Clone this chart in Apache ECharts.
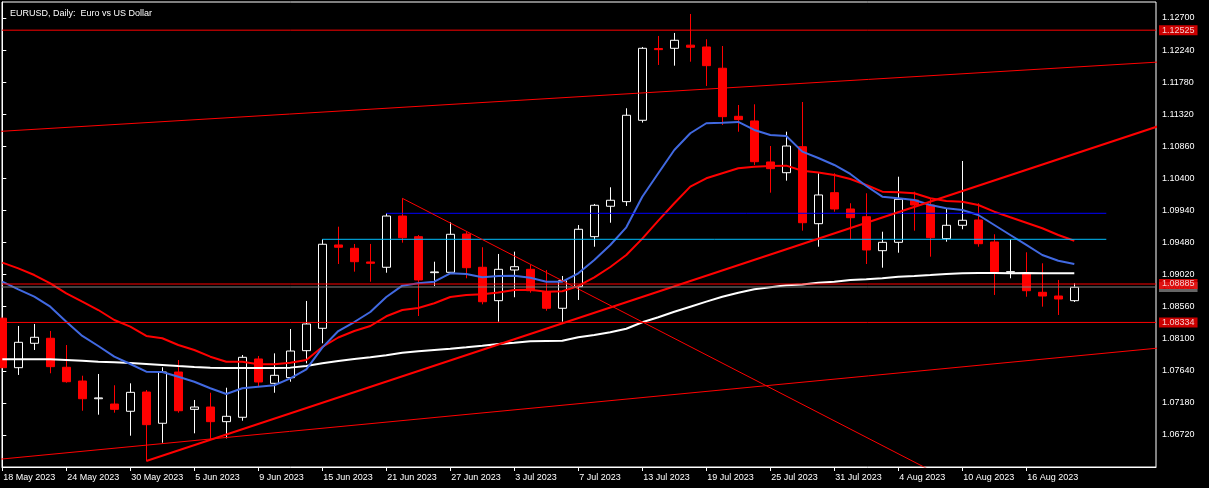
<!DOCTYPE html>
<html>
<head>
<meta charset="utf-8">
<script src="https://cdn.jsdelivr.net/npm/echarts@6/dist/echarts.min.js"></script>
<style>
html,body{margin:0;padding:0;background:#000;}
#chart{width:1209px;height:488px;}
</style>
</head>
<body>
<div id="chart"></div>
<script>
// ---- data ----
const dates = [
 '18 May 2023','19 May 2023','22 May 2023','23 May 2023','24 May 2023','25 May 2023','26 May 2023','29 May 2023','30 May 2023','31 May 2023',
 '1 Jun 2023','2 Jun 2023','5 Jun 2023','6 Jun 2023','7 Jun 2023','8 Jun 2023','9 Jun 2023','12 Jun 2023','13 Jun 2023','14 Jun 2023',
 '15 Jun 2023','16 Jun 2023','19 Jun 2023','20 Jun 2023','21 Jun 2023','22 Jun 2023','23 Jun 2023','26 Jun 2023','27 Jun 2023','28 Jun 2023',
 '29 Jun 2023','30 Jun 2023','3 Jul 2023','4 Jul 2023','5 Jul 2023','6 Jul 2023','7 Jul 2023','10 Jul 2023','11 Jul 2023','12 Jul 2023',
 '13 Jul 2023','14 Jul 2023','17 Jul 2023','18 Jul 2023','19 Jul 2023','20 Jul 2023','21 Jul 2023','24 Jul 2023','25 Jul 2023','26 Jul 2023',
 '27 Jul 2023','28 Jul 2023','31 Jul 2023','1 Aug 2023','2 Aug 2023','3 Aug 2023','4 Aug 2023','7 Aug 2023','8 Aug 2023','9 Aug 2023',
 '10 Aug 2023','11 Aug 2023','14 Aug 2023','15 Aug 2023','16 Aug 2023','17 Aug 2023','18 Aug 2023','21 Aug 2023'
];
const opens = [
 1.08395,1.07685,1.08035,1.08107,1.07691,1.07494,1.07240,1.07164,1.07060,1.07336,
 1.06888,1.07623,1.07088,1.07121,1.06911,1.06974,1.07810,1.07461,1.07542,1.07929,
 1.08250,1.09445,1.09397,1.09201,1.09125,1.09860,1.09564,1.09048,1.09053,1.09602,
 1.09125,1.08646,1.09086,1.09096,1.08775,1.08537,1.08847,1.09564,1.10000,1.10066,
 1.11233,1.12262,1.12265,1.12310,1.12284,1.11979,1.11290,1.11223,1.10635,1.10481,
 1.10854,1.09750,1.10195,1.09961,1.09850,1.09363,1.09483,1.10090,1.10018,1.09535,
 1.09727,1.09803,1.09488,1.09055,1.09039,1.08766,1.08713,1.08646
];
const highs = [
 1.08400,1.08283,1.08312,1.08212,1.08010,1.07570,1.07595,1.07433,1.07461,1.07365,
 1.07691,1.07795,1.07222,1.07326,1.07398,1.07867,1.07853,1.07891,1.08240,1.08642,
 1.09526,1.09707,1.09459,1.09459,1.09899,1.10114,1.09588,1.09205,1.09770,1.09635,
 1.09412,1.09316,1.09349,1.09158,1.09086,1.09000,1.09731,1.10033,1.10272,1.11405,
 1.12284,1.12442,1.12485,1.12757,1.12395,1.12298,1.11452,1.11462,1.10864,1.11069,
 1.11495,1.10473,1.10473,1.10043,1.10186,1.09635,1.10424,1.10209,1.10114,1.09971,
 1.10649,1.10043,1.09598,1.09526,1.09340,1.09182,1.08943,1.08895
];
const lows = [
 1.07680,1.07581,1.07939,1.07605,1.07470,1.07068,1.07011,1.07040,1.06710,1.06347,
 1.06609,1.07040,1.06744,1.06658,1.06672,1.06925,1.07412,1.07326,1.07484,1.07748,
 1.08035,1.09172,1.09062,1.08918,1.09047,1.09478,1.08426,1.08857,1.09039,1.08967,
 1.08594,1.08345,1.08695,1.08761,1.08502,1.08345,1.08656,1.09420,1.09764,1.10004,
 1.11200,1.12026,1.12016,1.12073,1.11725,1.11166,1.11069,1.10592,1.10195,1.10367,
 1.09650,1.09420,1.09922,1.09526,1.09172,1.09119,1.09334,1.09650,1.09277,1.09492,
 1.09670,1.09420,1.08728,1.08967,1.08703,1.08560,1.08441,1.08627
];
const closes = [
 1.07685,1.08049,1.08121,1.07700,1.07484,1.07240,1.07252,1.07088,1.07332,1.06868,
 1.07623,1.07068,1.07121,1.06911,1.06988,1.07834,1.07480,1.07576,1.07924,1.08312,
 1.09455,1.09412,1.09205,1.09182,1.09860,1.09549,1.08943,1.09058,1.09598,1.09119,
 1.08631,1.09096,1.09133,1.08789,1.08537,1.08933,1.09670,1.10014,1.10086,1.11305,
 1.12265,1.12246,1.12380,1.12280,1.12016,1.11285,1.11242,1.10639,1.10539,1.10864,
 1.09764,1.10162,1.09961,1.09836,1.09373,1.09483,1.10100,1.10018,1.09549,1.09727,
 1.09799,1.09463,1.09062,1.09062,1.08789,1.08713,1.08670,1.08838
];
const maFast = [
 1.08918,1.08809,1.08703,1.08560,1.08345,1.08140,1.07996,1.07843,1.07738,1.07628,
 1.07623,1.07556,1.07484,1.07390,1.07308,1.07390,1.07413,1.07433,1.07533,1.07662,
 1.07972,1.08211,1.08340,1.08484,1.08699,1.08861,1.08895,1.08918,1.09039,1.09029,
 1.08981,1.09000,1.09004,1.08976,1.08918,1.08918,1.09039,1.09230,1.09445,1.09698,
 1.10137,1.10473,1.10807,1.11047,1.11190,1.11199,1.11209,1.11094,1.11022,1.11008,
 1.10783,1.10692,1.10592,1.10463,1.10291,1.10137,1.10114,1.10090,1.10018,1.09971,
 1.09947,1.09875,1.09731,1.09588,1.09445,1.09301,1.09219,1.09172
];
const maMid = [
 1.09191,1.09110,1.09014,1.08895,1.08752,1.08631,1.08512,1.08369,1.08273,1.08140,
 1.08107,1.08011,1.07939,1.07843,1.07771,1.07771,1.07734,1.07734,1.07757,1.07795,
 1.07982,1.08118,1.08211,1.08283,1.08422,1.08512,1.08541,1.08609,1.08699,1.08728,
 1.08739,1.08763,1.08799,1.08804,1.08775,1.08782,1.08857,1.08981,1.09129,1.09301,
 1.09536,1.09793,1.10043,1.10281,1.10401,1.10473,1.10545,1.10568,1.10578,1.10582,
 1.10510,1.10484,1.10449,1.10391,1.10305,1.10209,1.10200,1.10186,1.10114,1.10076,
 1.10066,1.10018,1.09922,1.09842,1.09764,1.09684,1.09588,1.09506
];
const maSlow = [
 1.07805,1.07805,1.07805,1.07805,1.07795,1.07785,1.07771,1.07764,1.07752,1.07738,
 1.07724,1.07709,1.07695,1.07685,1.07681,1.07681,1.07681,1.07681,1.07686,1.07709,
 1.07748,1.07781,1.07810,1.07834,1.07863,1.07900,1.07920,1.07939,1.07957,1.07978,
 1.08000,1.08025,1.08043,1.08064,1.08068,1.08072,1.08121,1.08154,1.08193,1.08244,
 1.08336,1.08408,1.08488,1.08560,1.08632,1.08703,1.08761,1.08809,1.08838,1.08867,
 1.08878,1.08904,1.08918,1.08943,1.08953,1.08967,1.08990,1.09000,1.09014,1.09029,
 1.09039,1.09043,1.09043,1.09039,1.09043,1.09039,1.09039,1.09039
];
const yTicks = [1.06720,1.07180,1.07640,1.08100,1.08560,1.09020,1.09480,1.09940,1.10400,1.10860,1.11320,1.11780,1.12240,1.12700];
const xTicks = [0,4,8,12,16,20,24,28,32,36,40,44,48,52,56,60,64];
const levelLines = [1.12525, 1.08885, 1.08334];
const bidPrice = 1.08842;
const upperChannel = [[-1, 1.11062], [73, 1.12078]];
const lowerChannel = [[-1, 1.06354], [73, 1.07983]];
const mainTrend = [[9, 1.06347], [73, 1.11205]];
const fallLine = [[25, 1.10114], [60, 1.05978]];
const highLevelA = [[20, 1.09526], [69, 1.09526]];
const highLevelB = [[24, 1.09899], [69, 1.09899]];

// ---- chart ----
const FONT = 'Liberation Sans';
const X_MIN = -0.01875, X_MAX = 72.10625;
const chart = echarts.init(document.getElementById('chart'), null, {renderer: 'canvas'});
const candleData = dates.map((d, i) => [i, opens[i], closes[i], lows[i], highs[i]]);
const toXY = arr => arr.map((v, i) => [i, v]);

const lineSeries = (data, color, width, z) => ({
  type: 'line', data, showSymbol: false, symbol: 'none', silent: true, z,
  lineStyle: {color, width}, animation: false
});

const priceTag = (price, bg, fg, z) => ({
  type: 'scatter', data: [[X_MAX, price]], symbolSize: 0, silent: true, clip: false, z, animation: false,
  label: {
    show: true, position: 'right', distance: 3, formatter: price.toFixed(5),
    color: fg, backgroundColor: bg, fontSize: 9, fontFamily: FONT, lineHeight: 10, padding: [0, 3, 0, 3]
  }
});

const series = [
  {
    type: 'candlestick', data: candleData, barWidth: 9, z: 2, silent: true,
    itemStyle: {color: '#000000', borderColor: '#ffffff', color0: '#ff0000', borderColor0: '#ff0000', borderWidth: 1}
  },
  lineSeries(toXY(maSlow), '#ffffff', 2, 3),
  lineSeries(toXY(maMid), '#ff0000', 2, 3),
  lineSeries(toXY(maFast), '#4169e1', 2, 3),
  lineSeries(highLevelA, '#00bfff', 1, 4),
  lineSeries(highLevelB, '#0000ff', 1, 4),
  lineSeries(upperChannel, '#ff0000', 1, 4),
  lineSeries(lowerChannel, '#ff0000', 1, 4),
  lineSeries(fallLine, '#ff0000', 1, 4),
  lineSeries(mainTrend, '#ff0000', 2, 4),
  lineSeries([[X_MIN, bidPrice], [X_MAX, bidPrice]], '#808080', 1, 5),
  priceTag(bidPrice, '#808080', '#000000', 6)
];
levelLines.forEach(p => {
  series.push(lineSeries([[X_MIN, p], [X_MAX, p]], '#ff0000', 1, 5));
  series.push(priceTag(p, '#ff0000', '#ffffff', 7));
});

const option = {
  backgroundColor: '#000000',
  animation: false,
  title: {
    text: 'EURUSD, Daily:  Euro vs US Dollar', left: 5, top: 4,
    textStyle: {color: '#ffffff', fontSize: 9, fontWeight: 'normal', fontFamily: FONT}
  },
  grid: {left: 2, top: 2, right: 53, bottom: 21, show: true, borderColor: '#ffffff', borderWidth: 1, backgroundColor: 'transparent'},
  xAxis: {
    type: 'value', min: X_MIN, max: X_MAX,
    splitLine: {show: false},
    axisLine: {show: true, onZero: false, lineStyle: {color: '#ffffff', width: 1}},
    axisTick: {show: true, customValues: xTicks, length: 4, lineStyle: {color: '#ffffff'}},
    axisLabel: {
      customValues: xTicks, color: '#ffffff', fontSize: 9, fontFamily: FONT, align: 'left', margin: 6,
      padding: [0, 0, 0, 1],
      formatter: v => dates[Math.round(v)] || ''
    }
  },
  yAxis: {
    type: 'value', position: 'right', min: 1.06261, max: 1.12929, scale: true,
    splitLine: {show: false},
    axisLine: {show: true, lineStyle: {color: '#ffffff', width: 1}},
    axisTick: {show: true, customValues: yTicks, length: 4, lineStyle: {color: '#ffffff'}},
    axisLabel: {
      customValues: yTicks, color: '#ffffff', fontSize: 9, fontFamily: FONT, margin: 6,
      formatter: v => v.toFixed(5)
    }
  },
  series
};
chart.setOption(option);
</script>
</body>
</html>
